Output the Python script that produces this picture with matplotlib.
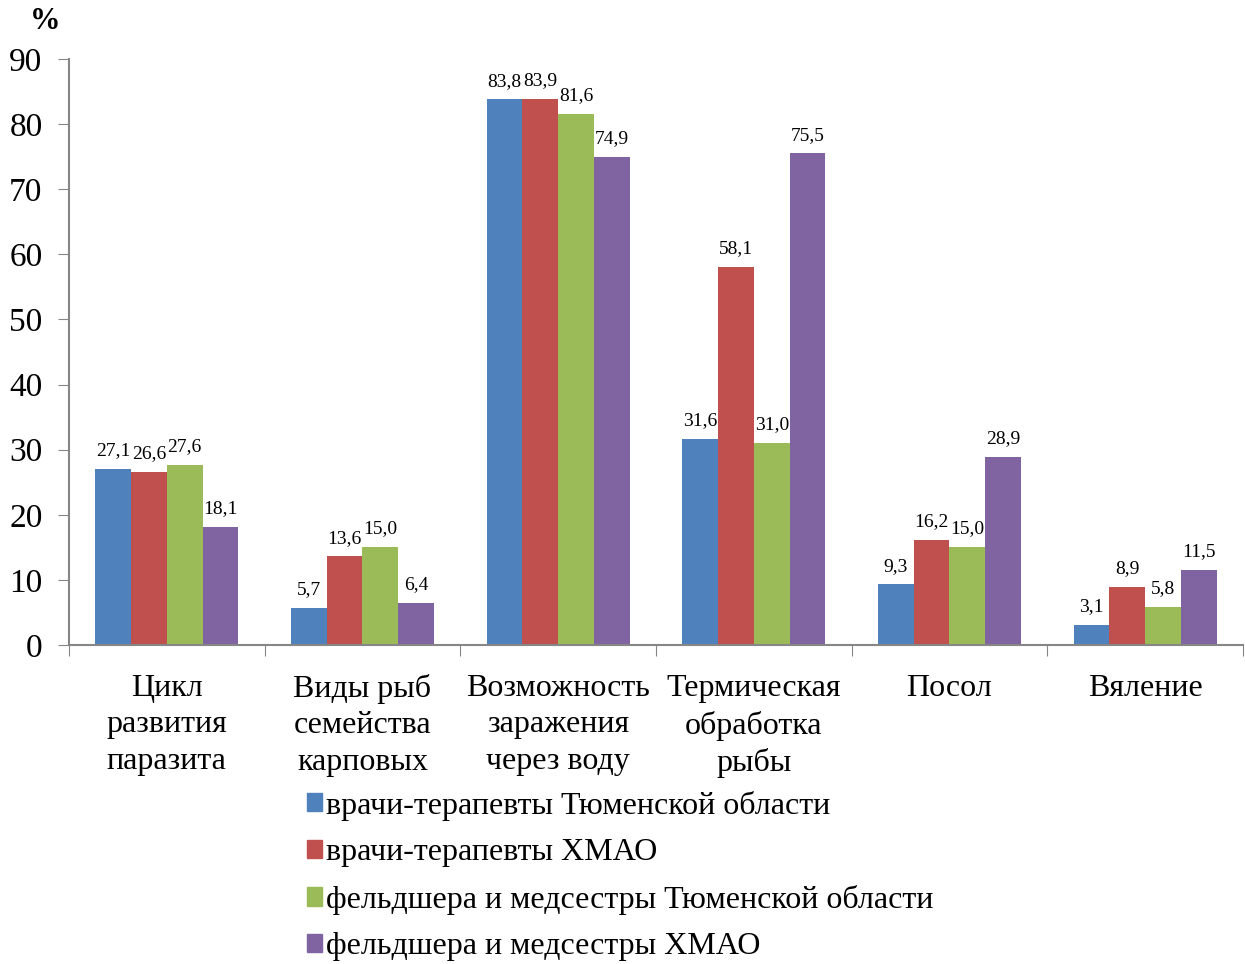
import numpy as np
import matplotlib.pyplot as plt
from matplotlib.patches import Patch

plt.rcParams['font.family'] = ['Liberation Serif', 'DejaVu Serif']

# категории вопросов
categories = ['Цикл\nразвития\nпаразита', 'Виды рыб\nсемейства\nкарповых',
              'Возможность\nзаражения\nчерез воду', 'Термическая\nобработка\nрыбы',
              'Посол', 'Вяление']

# доля правильных ответов, %
ter_tyumen = [27.1, 5.7, 83.8, 31.6, 9.3, 3.1]
ter_hmao = [26.6, 13.6, 83.9, 58.1, 16.2, 8.9]
feld_tyumen = [27.6, 15.0, 81.6, 31.0, 15.0, 5.8]
feld_hmao = [18.1, 6.4, 74.9, 75.5, 28.9, 11.5]

series = [ter_tyumen, ter_hmao, feld_tyumen, feld_hmao]
names = ['врачи-терапевты Тюменской области', 'врачи-терапевты ХМАО',
         'фельдшера и медсестры Тюменской области', 'фельдшера и медсестры ХМАО']
colors = ['#4F81BD', '#C0504D', '#9BBB59', '#8064A2']

fig = plt.figure(figsize=(12.45, 9.64), dpi=100)
ax = fig.add_axes([0.0554, 0.3309, 0.9430, 0.6079])

x = np.arange(len(categories))
w = 0.183
for i, (vals, col) in enumerate(zip(series, colors)):
    pos = x + (i - 1.5) * w
    ax.bar(pos, vals, width=w, color=col)
    for p, v in zip(pos, vals):
        ax.text(p, v + 1.5, f'{v:.1f}'.replace('.', ','), ha='center', va='bottom',
                fontsize=14)

ax.set_xlim(-0.5, len(categories) - 0.5)
ax.set_ylim(0, 90)
ax.set_yticks(range(0, 91, 10))

# деления на границах групп, подписи — по центрам
ax.set_xticks(np.arange(-0.5, len(categories), 1.0))
ax.set_xticklabels([])
ax.set_xticks(x, minor=True)
ax.set_xticklabels(categories, minor=True, fontsize=23, linespacing=1.33)
ax.tick_params(axis='x', which='minor', length=0, pad=21)
ax.tick_params(axis='x', which='major', length=8, color='#868686', direction='out')
ax.tick_params(axis='y', length=8, color='#868686', labelsize=24, pad=11)

for s in ['top', 'right']:
    ax.spines[s].set_visible(False)
for s in ['left', 'bottom']:
    ax.spines[s].set_color('#868686')
    ax.spines[s].set_linewidth(1.5)

fig.text(0.036, 0.978, '%', fontsize=22, fontweight='bold', va='center', ha='center')

handles = [Patch(color=c) for c in colors]
fig.legend(handles, names, loc='upper left', bbox_to_anchor=(0.236, 0.193),
           frameon=False, fontsize=23, handlelength=0.48, handleheight=0.5,
           handletextpad=0.12, labelspacing=0.55, borderaxespad=0)

fig.savefig('out.png', dpi=100)
